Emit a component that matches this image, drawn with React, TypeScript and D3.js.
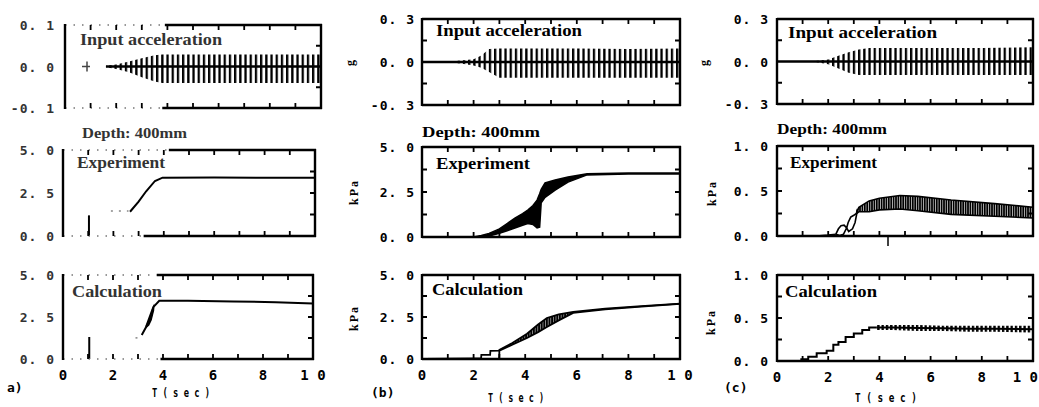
import React from "react";
import * as d3 from "d3";

// ================= DATA =================
const timeTicks = [1, 2, 3, 4, 5, 6, 7, 8, 9];
const timeLabels = [0, 2, 4, 6, 8, 10];
const timeLabelText = ["0", "2", "4", "6", "8", "1 0"];

// y tick label values / texts
const accAVals = [-0.1, 0, 0.1];
const accAText = ["-0. 1", "0. 0", "0. 1"];
const accVals = [-0.3, 0, 0.3];
const accText = ["-0. 3", "0. 0", "0. 3"];
const kpa5Vals = [0, 2.5, 5];
const kpa5Text = ["0. 0", "2. 5", "5. 0"];
const kpa1Vals = [0, 0.5, 1];
const kpa1Text = ["0. 0", "0. 5", "1. 0"];
const accAMinor = [-0.05, 0.05];
const accMinor = [-0.15, 0.15];
const kpa5Minor = [1.25, 2.5, 3.75];
const kpa1Minor = [0.25, 0.5, 0.75];

// ---- column (a) ----
const aInT = [1.6, 2.0, 2.5, 3.0, 3.5, 3.8, 6.0, 8.0, 10.0];
const aInUp = [0.002, 0.005, 0.012, 0.02, 0.027, 0.029, 0.029, 0.029, 0.029];
const aInLo = [-0.002, -0.006, -0.014, -0.026, -0.036, -0.04, -0.04, -0.04, -0.04];

const aExpT = [2.66, 3.0, 3.3, 3.65, 3.95, 6.0, 8.0, 10.0];
const aExpV = [1.41, 2.0, 2.6, 3.2, 3.39, 3.4, 3.39, 3.38];
const aExpFaintT = [1.9, 2.6];
const aExpFaintV = [1.45, 1.45];
const aExpSpikeT = [1.03, 1.03];
const aExpSpikeV = [0, 1.2];

const aCalT = [3.15, 3.33, 3.5, 3.62, 3.85, 5.0, 6.8, 8.5, 10.0];
const aCalV = [1.43, 1.92, 2.4, 3.1, 3.47, 3.46, 3.43, 3.38, 3.31];
const aCalBandT = [3.3, 3.45, 3.55, 3.65];
const aCalBandUp = [2.0, 2.6, 3.0, 3.3];
const aCalBandLo = [1.8, 2.0, 2.3, 2.9];
const aCalFaintT = [2.9, 3.1];
const aCalFaintV = [1.25, 1.3];
const aCalSpikeT = [1.05, 1.05];
const aCalSpikeV = [0, 1.31];

// ---- column (b) ----
const bInT = [0, 1.0, 1.5, 2.0, 2.3, 2.6, 3.0, 4.0, 6.0, 8.0, 10.0];
const bInUp = [0, 0.003, 0.01, 0.02, 0.045, 0.09, 0.095, 0.095, 0.095, 0.09, 0.095];
const bInLo = [0, -0.003, -0.01, -0.025, -0.04, -0.07, -0.11, -0.11, -0.11, -0.11, -0.11];

const bExpT = [0, 2.0, 2.3, 2.6, 3.0, 3.3, 3.6, 3.9, 4.1, 4.3, 4.46, 4.56, 4.62, 4.77, 5.16, 5.66, 6.4, 8.0, 10.0];
const bExpUp = [0, 0, 0.08, 0.2, 0.45, 0.75, 1.05, 1.3, 1.5, 1.75, 2.05, 2.4, 2.65, 3.0, 3.17, 3.33, 3.52, 3.55, 3.55];
const bExpLo = [0, 0, 0.03, 0.06, 0.2, 0.35, 0.5, 0.65, 0.75, 0.7, 0.5, 0.55, 1.9, 2.2, 2.6, 3.05, 3.45, 3.5, 3.5];

const bCalT = [0, 2.0, 2.29, 2.3, 2.64, 2.65, 2.99, 3.0, 3.5, 4.07, 4.5, 4.84, 5.3, 5.86, 7.1, 8.5, 10.0];
const bCalUp = [0, 0.02, 0.02, 0.24, 0.24, 0.48, 0.5, 0.55, 0.95, 1.5, 2.05, 2.44, 2.65, 2.8, 3.0, 3.15, 3.3];
const bCalLo = [0, 0.02, 0.02, 0, 0, 0, 0, 0.5, 0.85, 1.25, 1.6, 1.9, 2.3, 2.74, 2.95, 3.12, 3.28];
const bCalFillFrom = 3.0;

// ---- column (c) ----
const cInT = [0, 1.5, 2.0, 2.4, 2.8, 3.2, 3.6, 6.0, 8.0, 10.0];
const cInUp = [0, 0.003, 0.015, 0.04, 0.065, 0.085, 0.095, 0.095, 0.095, 0.1];
const cInLo = [0, -0.003, -0.02, -0.05, -0.08, -0.095, -0.095, -0.095, -0.095, -0.095];

const cExpBaseT = [0, 1.55, 2.0, 2.3];
const cExpBaseV = [0, 0, 0.01, 0.02];
const cLoopUpT = [2.3, 2.4, 2.5, 2.62, 2.72, 2.78, 2.88, 3.0, 3.1, 3.15];
const cLoopUpV = [0.02, 0.08, 0.115, 0.12, 0.09, 0.15, 0.21, 0.23, 0.25, 0.3];
const cLoopLoT = [2.3, 2.45, 2.6, 2.72, 2.8, 2.95, 3.05, 3.15];
const cLoopLoV = [0.02, 0.005, 0.02, 0.09, 0.05, 0.08, 0.15, 0.3];
const cExpBandT = [3.12, 3.2, 3.6, 4.0, 4.8, 5.5, 6.8, 8.5, 10.0];
const cExpBandUp = [0.27, 0.32, 0.39, 0.42, 0.45, 0.44, 0.4, 0.36, 0.32];
const cExpBandLo = [0.25, 0.27, 0.27, 0.29, 0.3, 0.28, 0.24, 0.22, 0.2];

const cCalStepT = [0, 0.95, 1.22, 1.55, 1.94, 2.2, 2.4, 2.68, 3.0, 3.33, 3.6, 3.9];
const cCalStepV = [0, 0.02, 0.05, 0.09, 0.12, 0.19, 0.22, 0.28, 0.32, 0.36, 0.39, 0.39];
const cCalBandT = [3.9, 4.5, 5.5, 6.5, 7.5, 8.5, 10.0];
const cCalBandUp = [0.42, 0.42, 0.42, 0.41, 0.41, 0.41, 0.41];
const cCalBandLo = [0.36, 0.36, 0.35, 0.35, 0.34, 0.34, 0.33];

// ================= LAYOUT / STYLE =================
const INK = "#000000";
const FONT_TICK = "'DejaVu Sans Mono', 'Liberation Mono', monospace";
const FONT_TITLE = "'Liberation Serif', 'DejaVu Serif', serif";

type Cfg = {
  xr: [number, number];
  yr: [number, number];
  yd: [number, number];
  minor: number[];
  leftTicks: boolean;
  fade: [number, number] | null;
};
const panelCfgs: Cfg[] = [
  { xr: [65, 321], yr: [108, 25], yd: [-0.1, 0.1], minor: accAMinor, leftTicks: false, fade: [3.9, 3.8] },
  { xr: [63, 315], yr: [236, 150], yd: [0, 5], minor: kpa5Minor, leftTicks: false, fade: [4.2, 3.2] },
  { xr: [63, 313], yr: [359, 275], yd: [0, 5], minor: kpa5Minor, leftTicks: false, fade: [3.75, 3.9] },
  { xr: [422, 680], yr: [105, 19], yd: [-0.3, 0.3], minor: accMinor, leftTicks: true, fade: null },
  { xr: [422, 680], yr: [237, 147], yd: [0, 5], minor: kpa5Minor, leftTicks: true, fade: null },
  { xr: [422, 680], yr: [359, 275], yd: [0, 5], minor: kpa5Minor, leftTicks: true, fade: null },
  { xr: [777, 1033], yr: [104, 19], yd: [-0.3, 0.3], minor: accMinor, leftTicks: true, fade: null },
  { xr: [777, 1033], yr: [236, 146], yd: [0, 1], minor: kpa1Minor, leftTicks: true, fade: null },
  { xr: [777, 1033], yr: [361, 275], yd: [0, 1], minor: kpa1Minor, leftTicks: true, fade: null },
];
const [aTop, aMid, aBot, bTop, bMid, bBot, cTop, cMid, cBot] = panelCfgs;

type Sc = d3.ScaleLinear<number, number>;
const sx = (c: Cfg) => d3.scaleLinear().domain([0, 10]).range(c.xr);
const sy = (c: Cfg) => d3.scaleLinear().domain(c.yd).range(c.yr);
const idx = (T: number[]) => T.map((_, i) => i);
const linePath = (T: number[], V: number[], x: Sc, y: Sc, curve: any = d3.curveLinear) =>
  d3.line<number>().x((i) => x(T[i])).y((i) => y(V[i])).curve(curve)(idx(T)) || "";
const bandPath = (T: number[], U: number[], Lo: number[], x: Sc, y: Sc) =>
  d3.area<number>().x((i) => x(T[i])).y0((i) => y(Lo[i])).y1((i) => y(U[i]))(idx(T)) || "";

// frame + ticks of all panels as one path string
function framePath(c: Cfg): string {
  const x = sx(c);
  const y = sy(c);
  const [xl, xr] = c.xr;
  const [yb, yt] = c.yr;
  const fT = c.fade ? x(c.fade[0]) : xl;
  const fB = c.fade ? x(c.fade[1]) : xl;
  let d = `M${xl},${yt - 1}V${yb + 1}M${xr},${yt - 1}V${yb + 1}M${fT},${yt}H${xr + 1}M${fB},${yb}H${xr + 1}`;
  return d;
}
function tickPath(c: Cfg): string {
  const x = sx(c);
  const y = sy(c);
  const [xl, xr] = c.xr;
  const [yb, yt] = c.yr;
  const tl = 5;
  let d = "";
  timeTicks.forEach((t) => {
    d += `M${x(t)},${yt}v${tl}M${x(t)},${yb}v${-tl}`;
  });
  c.minor.forEach((v) => {
    if (c.leftTicks) d += `M${xl},${y(v)}h${tl}`;
    d += `M${xr},${y(v)}h${-tl}`;
  });
  return d;
}
function fadePath(c: Cfg): string {
  if (!c.fade) return "";
  const x = sx(c);
  const [xl] = c.xr;
  const [yb, yt] = c.yr;
  return `M${xl},${yt}H${x(c.fade[0])}M${xl},${yb}H${x(c.fade[1])}`;
}

function YLabels({ c, vals, text, right, fill = INK }: { c: Cfg; vals: number[]; text: string[]; right: number; fill?: string }) {
  const y = sy(c);
  return (
    <g fontFamily={FONT_TICK} fontWeight="bold" fontSize={13} letterSpacing={1} fill={fill} textAnchor="end">
      {vals.map((v, i) => (
        <text key={v} x={right} y={y(v) + 5}>
          {text[i]}
        </text>
      ))}
    </g>
  );
}

function XLabels({ c, yPos, lastEnd }: { c: Cfg; yPos: number; lastEnd?: number }) {
  const x = sx(c);
  return (
    <g fontFamily={FONT_TICK} fontWeight="bold" fontSize={14} fill={INK}>
      {timeLabels.map((t, i) => {
        const last = i === timeLabels.length - 1 && lastEnd !== undefined;
        return (
          <text key={t} x={last ? lastEnd : x(t)} y={yPos} textAnchor={last ? "end" : "middle"}>
            {timeLabelText[i]}
          </text>
        );
      })}
    </g>
  );
}

function Title({ s, pos, fill = INK }: { s: string; pos: [number, number, number]; fill?: string }) {
  return (
    <text
      x={pos[0]}
      y={pos[1] + 5}
      textLength={pos[2]}
      lengthAdjust="spacingAndGlyphs"
      fontFamily={FONT_TITLE}
      fontWeight="bold"
      fontSize={16}
      fill={fill}
    >
      {s}
    </text>
  );
}

function Input({ c, T, U, Lo, t0 }: { c: Cfg; T: number[]; U: number[]; Lo: number[]; t0: number }) {
  const x = sx(c);
  const y = sy(c);
  return (
    <g>
      <path d={bandPath(T, U, Lo, x, y)} fill="url(#spk)" />
      <path d={`M${x(t0)},${y(0)}H${x(10)}`} stroke={INK} strokeWidth={2.5} fill="none" />
    </g>
  );
}

function RotText({ x, y, s, size = 12, ls = 2 }: { x: number; y: number; s: string; size?: number; ls?: number }) {
  return (
    <text
      transform={`translate(${x},${y}) rotate(-90)`}
      textAnchor="middle"
      fontFamily={FONT_TITLE}
      fontWeight="bold"
      fontSize={size}
      letterSpacing={ls}
      fill={INK}
    >
      {s}
    </text>
  );
}

export default function App() {
  const bCalFillIdx = bCalT.map((_, i) => i).filter((i) => bCalT[i] >= bCalFillFrom);
  const bCalFT = bCalFillIdx.map((i) => bCalT[i]);
  const bCalFU = bCalFillIdx.map((i) => bCalUp[i]);
  const bCalFL = bCalFillIdx.map((i) => bCalLo[i]);
  const cCalMid = cCalBandUp.map((u, i) => (u + cCalBandLo[i]) / 2);

  const xa2 = sx(aMid), ya2 = sy(aMid);
  const xa3 = sx(aBot), ya3 = sy(aBot);
  const xb2 = sx(bMid), yb2 = sy(bMid);
  const xb3 = sx(bBot), yb3 = sy(bBot);
  const xc2 = sx(cMid), yc2 = sy(cMid);
  const xc3 = sx(cBot), yc3 = sy(cBot);
  const ya1 = sy(aTop);

  const allFrames = panelCfgs.map(framePath).join("");
  const allTicks = panelCfgs.map(tickPath).join("");
  const allFades = panelCfgs.map(fadePath).join("");

  return (
    <svg width={1039} height={407} style={{ position: "absolute", left: 0, top: 0, background: "#fff" }}>
      <defs>
        <pattern id="spk" width="5.2" height="40" patternUnits="userSpaceOnUse">
          <rect x="0" y="0" width="2.3" height="40" fill={INK} />
        </pattern>
        <pattern id="dense" width="2.6" height="40" patternUnits="userSpaceOnUse">
          <rect x="0" y="0" width="2.1" height="40" fill={INK} />
        </pattern>
        <pattern id="dense2" width="2.4" height="40" patternUnits="userSpaceOnUse">
          <rect x="0" y="0" width="1.8" height="40" fill={INK} />
        </pattern>
        <pattern id="wavy" width="4.3" height="40" patternUnits="userSpaceOnUse">
          <rect x="0" y="0" width="2.4" height="40" fill={INK} />
        </pattern>
      </defs>
      <rect x={0} y={0} width={1039} height={407} fill="#ffffff" />

      {/* ===== data marks ===== */}
      <Input c={aTop} T={aInT} U={aInUp} Lo={aInLo} t0={aInT[0]} />
      <path d={`M82,${ya1(0)}H90M87,${ya1(0) - 5}V${ya1(0) + 5}`} stroke="#444" strokeWidth={1.5} fill="none" />
      <Input c={bTop} T={bInT} U={bInUp} Lo={bInLo} t0={0} />
      <Input c={cTop} T={cInT} U={cInUp} Lo={cInLo} t0={0} />

      <path d={linePath(aExpFaintT, aExpFaintV, xa2, ya2)} fill="none" stroke="#888" strokeWidth={1.5} strokeDasharray="2 6" />
      <path d={linePath(aExpSpikeT, aExpSpikeV, xa2, ya2)} fill="none" stroke={INK} strokeWidth={2} />
      <path d={linePath(aExpT, aExpV, xa2, ya2)} fill="none" stroke={INK} strokeWidth={2} />

      <path d={linePath(aCalFaintT, aCalFaintV, xa3, ya3)} fill="none" stroke="#888" strokeWidth={1.5} strokeDasharray="2 5" />
      <path d={linePath(aCalSpikeT, aCalSpikeV, xa3, ya3)} fill="none" stroke={INK} strokeWidth={2} />
      <path d={bandPath(aCalBandT, aCalBandUp, aCalBandLo, xa3, ya3)} fill={INK} />
      <path d={linePath(aCalT, aCalV, xa3, ya3)} fill="none" stroke={INK} strokeWidth={2} />

      <path d={bandPath(bExpT, bExpUp, bExpLo, xb2, yb2)} fill={INK} />
      <path d={linePath(bExpT, bExpUp, xb2, yb2)} fill="none" stroke={INK} strokeWidth={1.5} />
      <path d={linePath(bExpT, bExpLo, xb2, yb2)} fill="none" stroke={INK} strokeWidth={1.5} />

      <path d={bandPath(bCalFT, bCalFU, bCalFL, xb3, yb3)} fill="url(#dense)" />
      <path d={linePath(bCalT, bCalUp, xb3, yb3)} fill="none" stroke={INK} strokeWidth={1.8} />
      <path d={linePath(bCalT, bCalLo, xb3, yb3)} fill="none" stroke={INK} strokeWidth={1.8} />

      <path d={bandPath(cExpBandT, cExpBandUp, cExpBandLo, xc2, yc2)} fill="url(#dense2)" />
      <path d={linePath(cExpBaseT, cExpBaseV, xc2, yc2)} fill="none" stroke={INK} strokeWidth={1.6} />
      <path d={linePath(cLoopUpT, cLoopUpV, xc2, yc2)} fill="none" stroke={INK} strokeWidth={1.6} />
      <path d={linePath(cLoopLoT, cLoopLoV, xc2, yc2)} fill="none" stroke={INK} strokeWidth={1.6} />
      <path d={linePath(cExpBandT, cExpBandUp, xc2, yc2)} fill="none" stroke={INK} strokeWidth={1.6} />
      <path d={linePath(cExpBandT, cExpBandLo, xc2, yc2)} fill="none" stroke={INK} strokeWidth={1.6} />
      <path d="M888,236V246" stroke={INK} strokeWidth={1.5} fill="none" />

      <path d={bandPath(cCalBandT, cCalBandUp, cCalBandLo, xc3, yc3)} fill="url(#wavy)" />
      <path d={linePath(cCalBandT, cCalMid, xc3, yc3)} fill="none" stroke={INK} strokeWidth={2} />
      <path d={linePath(cCalStepT, cCalStepV, xc3, yc3, d3.curveStepAfter)} fill="none" stroke={INK} strokeWidth={2} />

      {/* ===== frames & ticks ===== */}
      <path d={allFades} fill="none" stroke="#777777" strokeWidth={1.6} strokeDasharray="1.5 7" />
      <path d={allFrames} fill="none" stroke="#000000" strokeWidth={2.4} />
      <path d={allTicks} fill="none" stroke="#000000" strokeWidth={1.8} />

      {/* ===== titles ===== */}
      <Title s="Input acceleration" pos={[80, 40, 142]} fill="#333" />
      <Title s="Experiment" pos={[77, 163, 88]} fill="#333" />
      <Title s="Calculation" pos={[72, 292, 90]} fill="#333" />
      <Title s="Input acceleration" pos={[436, 31, 146]} />
      <Title s="Experiment" pos={[436, 164, 94]} />
      <Title s="Calculation" pos={[432, 290, 91]} />
      <Title s="Input acceleration" pos={[788, 33, 149]} />
      <Title s="Experiment" pos={[790, 163, 87]} />
      <Title s="Calculation" pos={[785, 292, 92]} />

      {/* ===== axis labels ===== */}
      <YLabels c={aTop} vals={accAVals} text={accAText} right={55} fill="#333" />
      <YLabels c={aMid} vals={kpa5Vals} text={kpa5Text} right={55} fill="#333" />
      <YLabels c={aBot} vals={kpa5Vals} text={kpa5Text} right={55} fill="#333" />
      <YLabels c={bTop} vals={accVals} text={accText} right={415} />
      <YLabels c={bMid} vals={kpa5Vals} text={kpa5Text} right={415} />
      <YLabels c={bBot} vals={kpa5Vals} text={kpa5Text} right={415} />
      <YLabels c={cTop} vals={accVals} text={accText} right={769} />
      <YLabels c={cMid} vals={kpa1Vals} text={kpa1Text} right={769} />
      <YLabels c={cBot} vals={kpa1Vals} text={kpa1Text} right={769} />
      <XLabels c={aBot} yPos={380} />
      <XLabels c={bBot} yPos={380} />
      <XLabels c={cBot} yPos={382} lastEnd={1038} />

      <g fontFamily={FONT_TITLE} fontWeight="bold" fontSize={14} fill={INK}>
        <text x={82} y={138} textLength={105} lengthAdjust="spacingAndGlyphs" fill="#333">Depth: 400mm</text>
        <text x={422} y={137} textLength={118} lengthAdjust="spacingAndGlyphs">Depth: 400mm</text>
        <text x={777} y={134} textLength={110} lengthAdjust="spacingAndGlyphs">Depth: 400mm</text>
      </g>
      <g fontFamily={FONT_TICK} fontWeight="bold" fontSize={13} fill={INK}>
        <text x={152} y={397} textLength={58} lengthAdjust="spacingAndGlyphs">T ( s e c )</text>
        <text x={488} y={402} textLength={56} lengthAdjust="spacingAndGlyphs">T ( s e c )</text>
        <text x={855} y={402} textLength={62} lengthAdjust="spacingAndGlyphs">T ( s e c )</text>
        <text x={7} y={392}>a)</text>
        <text x={371} y={397}>(b)</text>
        <text x={724} y={392}>(c)</text>
      </g>
      <RotText x={354} y={62} s="g" />
      <RotText x={358} y={192} s="kPa" />
      <RotText x={358} y={318} s="kPa" />
      <RotText x={708} y={62} s="g" />
      <RotText x={716} y={193} s="kPa" />
      <RotText x={715} y={322} s="kPa" />
    </svg>
  );
}
